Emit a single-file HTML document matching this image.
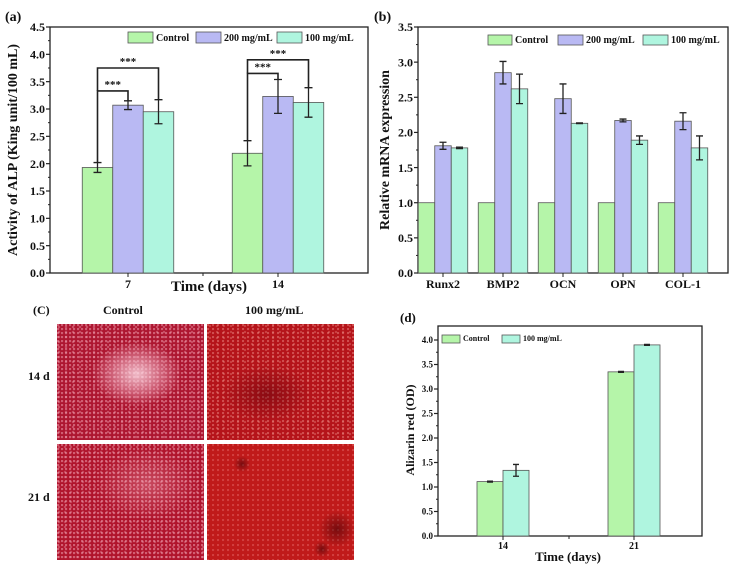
<!DOCTYPE html>
<html><head><meta charset="utf-8">
<style>
html,body{margin:0;padding:0;background:#fff;}
#wrap{position:relative;width:734px;height:571px;overflow:hidden;font-family:"Liberation Serif",serif;}
svg{position:absolute;left:0;top:0;}
.img{position:absolute;overflow:hidden;}
.lbl{position:absolute;font-weight:bold;font-size:12px;color:#111;}
</style></head><body>
<div id="wrap">
<div class="lbl" style="left:33px;top:303px;">(C)</div>
<div class="lbl" style="left:103px;top:303px;">Control</div>
<div class="lbl" style="left:245px;top:303px;">100 mg/mL</div>
<div class="lbl" style="left:28px;top:369px;">14 d</div>
<div class="lbl" style="left:28px;top:490px;">21 d</div>
<div class="img" style="left:57px;top:324px;width:147px;height:116px;background:
radial-gradient(ellipse 45px 32px at 80px 50px,rgba(255,225,235,.8),rgba(240,170,190,.45) 60%,transparent 100%),
radial-gradient(circle at 1px 1px,rgba(255,190,205,.45) 0.9px,transparent 1.5px) 0 0/4px 4px,
radial-gradient(circle at 2px 3px,rgba(255,190,205,.35) 0.9px,transparent 1.5px) 0 0/7px 5px,
#ad1630;"></div>
<div class="img" style="left:207px;top:324px;width:147px;height:116px;background:
radial-gradient(ellipse 45px 28px at 60px 70px,rgba(90,0,10,.45),transparent),
radial-gradient(circle at 1px 1px,rgba(255,180,170,.4) 0.8px,transparent 1.4px) 0 0/5px 4px,
radial-gradient(circle at 3px 2px,rgba(255,180,170,.3) 0.8px,transparent 1.4px) 0 0/7px 6px,
#b5141a;"></div>
<div class="img" style="left:57px;top:444px;width:147px;height:116px;background:
radial-gradient(ellipse 50px 35px at 90px 40px,rgba(255,200,215,.3),transparent),
radial-gradient(circle at 1px 1px,rgba(255,195,210,.45) 0.9px,transparent 1.5px) 0 0/4px 4px,
radial-gradient(circle at 2px 3px,rgba(255,195,210,.3) 0.9px,transparent 1.5px) 0 0/6px 5px,
#b0142c;"></div>
<div class="img" style="left:207px;top:444px;width:147px;height:116px;background:
radial-gradient(circle at 130px 85px,rgba(60,0,5,.55),transparent 18px),
radial-gradient(circle at 35px 20px,rgba(60,0,5,.55),transparent 8px),
radial-gradient(circle at 115px 105px,rgba(60,0,5,.55),transparent 8px),
radial-gradient(circle at 1px 1px,rgba(255,160,160,.3) 0.8px,transparent 1.4px) 0 0/5px 5px,
#c01a1a;"></div>
<svg id="svg" width="734" height="571" xmlns="http://www.w3.org/2000/svg"></svg>
</div>
<script>
// Panel (a) data
const aCats = ["7","14"];
const aControl = [1.93, 2.19];
const aControlErr = [0.09, 0.23];
const a200 = [3.07, 3.23];
const a200Err = [0.08, 0.31];
const a100 = [2.95, 3.12];
const a100Err = [0.22, 0.27];
const aTicks = ["0.0","0.5","1.0","1.5","2.0","2.5","3.0","3.5","4.0","4.5"];
// Panel (b) data
const bCats = ["Runx2","BMP2","OCN","OPN","COL-1"];
const bControl = [1.0, 1.0, 1.0, 1.0, 1.0];
const b200 = [1.81, 2.85, 2.48, 2.17, 2.16];
const b200Err = [0.05, 0.16, 0.21, 0.02, 0.12];
const b100 = [1.78, 2.62, 2.13, 1.89, 1.78];
const b100Err = [0.01, 0.21, 0.005, 0.06, 0.17];
const bTicks = ["0.0","0.5","1.0","1.5","2.0","2.5","3.0","3.5"];
// Panel (d) data
const dCats = ["14","21"];
const dControl = [1.11, 3.35];
const dControlErr = [0.01, 0.01];
const d100 = [1.34, 3.90];
const d100Err = [0.12, 0.01];
const dTicks = ["0.0","0.5","1.0","1.5","2.0","2.5","3.0","3.5","4.0"];

const NS="http://www.w3.org/2000/svg";
const svg=document.getElementById('svg');
const GREEN="#b5f5a9", BLUE="#b9b9f3", TEAL="#aff5df", EDGE="#555";
function mk(tag,attrs){const e=document.createElementNS(NS,tag);for(const k in attrs)e.setAttribute(k,attrs[k]);svg.appendChild(e);return e;}
function txt(x,y,s,size,anchor,rot){const e=mk('text',{x:x,y:y,'font-size':size,'font-weight':'bold','font-family':'Liberation Serif, serif','text-anchor':anchor||'middle',fill:'#111'});if(rot)e.setAttribute('transform','rotate(-90 '+x+' '+y+')');e.textContent=s;return e;}

function axes(p){
  const f=mk('rect',{x:p.x0,y:p.yt,width:p.x1-p.x0,height:p.yb-p.yt,fill:'none',stroke:'#222','stroke-width':1.3});
  
  
  p.ticks.forEach((t,i)=>{
    const v=parseFloat(t), y=p.Y(v);
    const l=mk('line',{x1:p.x0-4,x2:p.x0,y1:y,y2:y,stroke:'#222','stroke-width':1.2});
    
    
    if(i<p.ticks.length-1){const ym=p.Y(v+p.step/2);mk('line',{x1:p.x0-2,x2:p.x0,y1:ym,y2:ym,stroke:'#222'});}
    const tt=txt(p.x0-5,y+p.fs*0.35,t,p.fs,'end');
    
    
  });
}
function bar(p,cx,w,v,color,name){
  const r=mk('rect',{x:cx-w/2,y:p.Y(v),width:w,height:p.Y(0)-p.Y(v),fill:color,stroke:EDGE,'stroke-width':0.8});
  
  
}
function err(p,cx,v,e,cap){
  const g=mk('path',{d:'M'+cx+','+p.Y(v-e)+'V'+p.Y(v+e)+'M'+(cx-cap)+','+p.Y(v-e)+'h'+(2*cap)+'M'+(cx-cap)+','+p.Y(v+e)+'h'+(2*cap),stroke:'#222','stroke-width':1.3,fill:'none'});
  
  
}
function legend(items,y,h,fs){
  items.forEach(it=>{
    const r=mk('rect',{x:it[0],y:y,width:it[1],height:h,fill:it[2],stroke:EDGE,'stroke-width':0.8});
    
    
    const t=txt(it[0]+it[1]+3,y+h-2,it[3],fs,'start');
    
    
  });
}

// ---- Panel a ----
const pa={id:'a',x0:50,x1:368,yt:27,yb:273,ticks:aTicks,step:0.5,fs:12};
pa.Y=v=>pa.yb-v*(pa.yb-pa.yt)/4.5;
axes(pa);
const aCenters=[128,278], aw=30.5;
[203].forEach(x=>mk('line',{x1:x,x2:x,y1:pa.yb,y2:pa.yb+3,stroke:'#222'}));
aCats.forEach((c,i)=>{
  const cx=aCenters[i];
  bar(pa,cx-aw,aw,aControl[i],GREEN,'bar-a-control-'+c);
  bar(pa,cx,aw,a200[i],BLUE,'bar-a-200-'+c);
  bar(pa,cx+aw,aw,a100[i],TEAL,'bar-a-100-'+c);
  err(pa,cx-aw,aControl[i],aControlErr[i],4);
  err(pa,cx,a200[i],a200Err[i],4);
  err(pa,cx+aw,a100[i],a100Err[i],4);
  mk('line',{x1:cx,x2:cx,y1:pa.yb,y2:pa.yb+4,stroke:'#222'});
  const tl=txt(cx,pa.yb+15,c,12);
  
  
  const lowTop=i===0?3.33:3.65, hiTop=i===0?3.75:3.90;
  const b1=mk('path',{d:'M'+(cx-aw)+','+pa.Y(aControl[i]+aControlErr[i])+'V'+pa.Y(lowTop)+'H'+cx+'V'+pa.Y(a200[i]+a200Err[i]),stroke:'#222','stroke-width':1.6,fill:'none'});
  
  
  const b2=mk('path',{d:'M'+(cx-aw)+','+pa.Y(lowTop)+'V'+pa.Y(hiTop)+'H'+(cx+aw)+'V'+pa.Y(a100[i]+a100Err[i]),stroke:'#222','stroke-width':1.6,fill:'none'});
  
  
  txt(cx-aw/2,pa.Y(lowTop)-3,'***',11);
  txt(cx,pa.Y(hiTop)-3,'***',11);
});
txt(17,150,'Activity of ALP (King unit/100 mL)',14,'middle',true);
txt(209,291,'Time (days)',15);
txt(5,21,'(a)',14,'start');
legend([[128,25,GREEN,'Control','control'],[196,25,BLUE,'200 mg/mL','200'],[277,25,TEAL,'100 mg/mL','100']],32,11,10);

// ---- Panel b ----
const pb={id:'b',x0:418,x1:728,yt:27,yb:273,ticks:bTicks,step:0.5,fs:12};
pb.Y=v=>pb.yb-v*(pb.yb-pb.yt)/3.5;
axes(pb);
const bw=16.5;
bCats.forEach((c,i)=>{
  const cx=443+i*60;
  bar(pb,cx-bw,bw,bControl[i],GREEN,'bar-b-control-'+c);
  bar(pb,cx,bw,b200[i],BLUE,'bar-b-200-'+c);
  bar(pb,cx+bw,bw,b100[i],TEAL,'bar-b-100-'+c);
  err(pb,cx,b200[i],b200Err[i],3.5);
  err(pb,cx+bw,b100[i],b100Err[i],3.5);
  mk('line',{x1:cx,x2:cx,y1:pb.yb,y2:pb.yb+4,stroke:'#222'});
  const tl=txt(cx,pb.yb+15,c,12);
  
  
});
txt(389,150,'Relative mRNA expression',14,'middle',true);
txt(374,21,'(b)',14,'start');
legend([[488,24,GREEN,'Control','control'],[558,25,BLUE,'200 mg/mL','200'],[643,25,TEAL,'100 mg/mL','100']],35,10,10);

// ---- Panel d ----
const pd={id:'d',x0:438,x1:702,yt:326,yb:536,ticks:dTicks,step:0.5,fs:9};
pd.Y=v=>pd.yb-v*(pd.yb-340)/4.0;
axes(pd);
const dCenters=[503,634], dw=26;
[569].forEach(x=>mk('line',{x1:x,x2:x,y1:pd.yb,y2:pd.yb+3,stroke:'#222'}));
dCats.forEach((c,i)=>{
  const cx=dCenters[i];
  bar(pd,cx-dw/2,dw,dControl[i],GREEN,'bar-d-control-'+c);
  bar(pd,cx+dw/2,dw,d100[i],TEAL,'bar-d-100-'+c);
  err(pd,cx-dw/2,dControl[i],dControlErr[i],3);
  err(pd,cx+dw/2,d100[i],d100Err[i],3);
  mk('line',{x1:cx,x2:cx,y1:pd.yb,y2:pd.yb+4,stroke:'#222'});
  const tl=txt(cx,pd.yb+13,c,10);
  
  
});
txt(414,430,'Alizarin red (OD)',12,'middle',true);
txt(568,561,'Time (days)',13);
txt(400,322,'(d)',13,'start');
legend([[442,18,GREEN,'Control','control'],[502,18,TEAL,'100 mg/mL','100']],335,8,8);
</script>
</body></html>
